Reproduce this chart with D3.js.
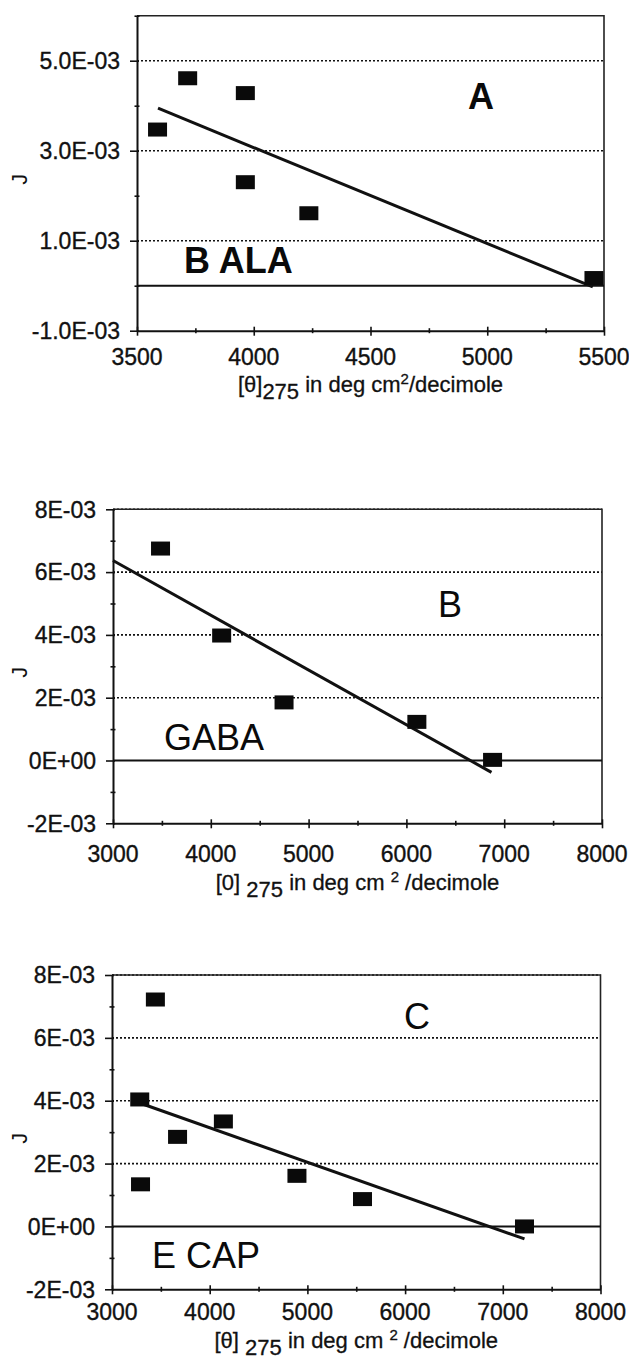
<!DOCTYPE html>
<html>
<head>
<meta charset="utf-8">
<script src="https://cdn.jsdelivr.net/npm/d3@7"></script>
<style>
  body { margin: 0; background: #fff; }
  svg  { display: block; }
</style>
</head>
<body>
<svg id="chart" width="629" height="1366"></svg>
<script>
// --- Daten ---

// Panel A (B ALA)
const thetaA = [3588, 3717, 3964, 3964, 4236, 5457];
const jA     = [3.47e-3, 4.61e-3, 4.28e-3, 2.30e-3, 1.61e-3, 0.17e-3];
const trendA = [3590, 5452];
const xTicksA = [3500, 4000, 4500, 5000, 5500];
const yTicksA = [-1e-3, 1e-3, 3e-3, 5e-3];
const yLabelsA = ['-1.0E-03', '1.0E-03', '3.0E-03', '5.0E-03'];

// Panel B (GABA)
const thetaB = [3486, 4111, 4749, 6107, 6881];
const jB     = [6.75e-3, 3.98e-3, 1.85e-3, 1.23e-3, 0.02e-3];
const trendB = [3000, 6870];
const xTicksB = [3000, 4000, 5000, 6000, 7000, 8000];
const yTicksB = [-2e-3, 0, 2e-3, 4e-3, 6e-3, 8e-3];
const yLabelsB = ['-2E-03', '0E+00', '2E-03', '4E-03', '6E-03', '8E-03'];

// Panel C (E CAP)
const thetaC = [3444, 3284, 3671, 4140, 3292, 4893, 5564, 7222];
const jC     = [7.22e-3, 4.04e-3, 2.85e-3, 3.34e-3, 1.34e-3, 1.61e-3, 0.87e-3, 0.0];
const trendC = [3284, 7222];
const xTicksC = [3000, 4000, 5000, 6000, 7000, 8000];
const yTicksC = [-2e-3, 0, 2e-3, 4e-3, 6e-3, 8e-3];
const yLabelsC = ['-2E-03', '0E+00', '2E-03', '4E-03', '6E-03', '8E-03'];

(function () {
  'use strict';

  const FONT = 'Arial, "Liberation Sans", sans-serif';
  const svg = d3.select('#chart');

  // Layout je Panel (Plotbereich in Pixeln)
  const panels = [
    {
      xs: thetaA, ys: jA, trend: trendA,
      xDomain: [3500, 5500], yDomain: [-1e-3, 6e-3],
      xTicks: xTicksA, xMinor: 250, yTicks: yTicksA, yLabels: yLabelsA, yMinor: 1e-3,
      left: 137, right: 604, top: 15.7, bottom: 330.7,
      xLabelY: 365, titleY: 392, theta: '[θ]', titleGap: '',
      labels: [
        { text: 'A',     x: 468, y: 109, weight: 'bold' },
        { text: 'B ALA', x: 184, y: 273, weight: 'bold' }
      ]
    },
    {
      xs: thetaB, ys: jB, trend: trendB,
      xDomain: [3000, 8000], yDomain: [-2e-3, 8e-3],
      xTicks: xTicksB, xMinor: 500, yTicks: yTicksB, yLabels: yLabelsB, yMinor: 1e-3,
      left: 113, right: 602, top: 509.3, bottom: 823.3,
      xLabelY: 862, titleY: 890, theta: '[0]', titleGap: ' ',
      labels: [
        { text: 'B',    x: 438, y: 617, weight: 'normal' },
        { text: 'GABA', x: 164, y: 750, weight: 'normal' }
      ]
    },
    {
      xs: thetaC, ys: jC, trend: trendC,
      xDomain: [3000, 8000], yDomain: [-2e-3, 8e-3],
      xTicks: xTicksC, xMinor: 500, yTicks: yTicksC, yLabels: yLabelsC, yMinor: 1e-3,
      left: 112, right: 600.5, top: 975, bottom: 1289.3,
      xLabelY: 1320, titleY: 1348, theta: '[θ]', titleGap: ' ',
      labels: [
        { text: 'C',     x: 404, y: 1029, weight: 'normal' },
        { text: 'E CAP', x: 152, y: 1268, weight: 'normal' }
      ]
    }
  ];

  panels.forEach(drawPanel);

  function drawPanel(p) {
    const x = d3.scaleLinear().domain(p.xDomain).range([p.left, p.right]);
    const y = d3.scaleLinear().domain(p.yDomain).range([p.bottom, p.top]);
    const g = svg.append('g');

    // Gitterlinien (gepunktet) an den Haupt-Ticks, außer unten und bei 0
    g.append('g')
      .selectAll('line')
      .data(p.yTicks.filter(v => v !== p.yDomain[0] && v !== 0))
      .enter()
      .append('line')
      .attr('x1', p.left).attr('x2', p.right)
      .attr('y1', d => y(d)).attr('y2', d => y(d))
      .attr('stroke', '#111')
      .attr('stroke-width', 1.6)
      .attr('stroke-dasharray', '2,2');

    // Rahmen oben / rechts
    g.append('path')
      .attr('d', `M${p.left},${p.top}H${p.right}V${p.bottom}`)
      .attr('fill', 'none')
      .attr('stroke', '#222')
      .attr('stroke-width', 1.6);

    // Nulllinie
    g.append('line')
      .attr('x1', p.left).attr('x2', p.right)
      .attr('y1', y(0)).attr('y2', y(0))
      .attr('stroke', '#111')
      .attr('stroke-width', 2);

    // X-Achse
    const xAxis = d3.axisBottom(x)
      .tickValues(d3.range(p.xDomain[0], p.xDomain[1] + 1, p.xMinor))
      .tickSize(0)
      .tickFormat('');
    const xa = g.append('g')
      .attr('transform', `translate(0,${p.bottom})`)
      .call(xAxis);
    xa.select('.domain').attr('stroke', '#111').attr('stroke-width', 2);
    xa.selectAll('.tick line')
      .attr('y1', d => p.xTicks.includes(d) ? -4 : -2.5)
      .attr('y2', d => p.xTicks.includes(d) ? 5 : 2.5)
      .attr('stroke', '#111')
      .attr('stroke-width', 1.6);

    g.append('g')
      .selectAll('text')
      .data(p.xTicks)
      .enter()
      .append('text')
      .attr('x', d => x(d))
      .attr('y', p.xLabelY)
      .attr('text-anchor', 'middle')
      .attr('font-family', FONT)
      .attr('font-size', '23px')
      .attr('fill', '#111')
      .attr('stroke', '#111')
      .attr('stroke-width', 0.35)
      .text(d => d);

    // Y-Achse
    const yMinorVals = d3.range(p.yDomain[0], p.yDomain[1] + p.yMinor / 2, p.yMinor);
    const yAxis = d3.axisLeft(y)
      .tickValues(yMinorVals)
      .tickSize(0)
      .tickFormat('');
    const ya = g.append('g')
      .attr('transform', `translate(${p.left},0)`)
      .call(yAxis);
    ya.select('.domain').attr('stroke', '#111').attr('stroke-width', 2);
    ya.selectAll('.tick line')
      .attr('x1', d => isMajor(d) ? -7 : -2.5)
      .attr('x2', d => isMajor(d) ? 2 : 2.5)
      .attr('stroke', '#111')
      .attr('stroke-width', 1.6);

    function isMajor(v) {
      return p.yTicks.some(t => Math.abs(t - v) < 1e-9);
    }

    g.append('g')
      .selectAll('text')
      .data(p.yTicks)
      .enter()
      .append('text')
      .attr('x', p.left - 17)
      .attr('y', d => y(d))
      .attr('dy', '0.36em')
      .attr('text-anchor', 'end')
      .attr('font-family', FONT)
      .attr('font-size', '23px')
      .attr('fill', '#111')
      .attr('stroke', '#111')
      .attr('stroke-width', 0.35)
      .text((d, i) => p.yLabels[i]);

    // Achsentitel J
    const cy = (p.top + p.bottom) / 2;
    g.append('text')
      .attr('transform', `translate(27,${cy + 6}) rotate(-90)`)
      .attr('text-anchor', 'middle')
      .attr('font-family', FONT)
      .attr('font-size', '22px')
      .attr('fill', '#111')
      .text('J');

    // X-Titel mit Index und Exponent
    const t = g.append('text')
      .attr('x', (p.left + p.right) / 2)
      .attr('y', p.titleY)
      .attr('text-anchor', 'middle')
      .attr('font-family', FONT)
      .attr('font-size', '22px')
      .attr('fill', '#111')
      .attr('stroke', '#111')
      .attr('stroke-width', 0.3);
    t.append('tspan').text(p.theta + p.titleGap);
    t.append('tspan').attr('dy', 7).text('275');
    t.append('tspan').attr('dy', -7).text(' in deg cm' + p.titleGap);
    t.append('tspan').attr('dy', -8).attr('font-size', '15px').text('2');
    t.append('tspan').attr('dy', 8).text(p.titleGap + '/decimole');

    // Trendlinie (kleinste Quadrate)
    const n = p.xs.length;
    const mx = d3.mean(p.xs);
    const my = d3.mean(p.ys);
    let sxy = 0, sxx = 0;
    for (let i = 0; i < n; i++) {
      sxy += (p.xs[i] - mx) * (p.ys[i] - my);
      sxx += (p.xs[i] - mx) * (p.xs[i] - mx);
    }
    const slope = sxy / sxx;
    const fit = v => my + slope * (v - mx);

    g.append('line')
      .attr('x1', x(p.trend[0])).attr('y1', y(fit(p.trend[0])))
      .attr('x2', x(p.trend[1])).attr('y2', y(fit(p.trend[1])))
      .attr('stroke', '#111')
      .attr('stroke-width', 3);

    // Datenpunkte (Quadrate)
    g.append('g')
      .selectAll('rect')
      .data(p.xs.map((v, i) => [v, p.ys[i]]))
      .enter()
      .append('rect')
      .attr('x', d => x(d[0]) - 9.5)
      .attr('y', d => y(d[1]) - 7)
      .attr('width', 19)
      .attr('height', 14)
      .attr('fill', '#0a0a0a');

    // Beschriftungen im Plot
    g.append('g')
      .selectAll('text')
      .data(p.labels)
      .enter()
      .append('text')
      .attr('x', d => d.x)
      .attr('y', d => d.y)
      .attr('font-family', FONT)
      .attr('font-size', '36px')
      .attr('font-weight', d => d.weight)
      .attr('fill', '#0a0a0a')
      .text(d => d.text);
  }
})();
</script>
</body>
</html>
